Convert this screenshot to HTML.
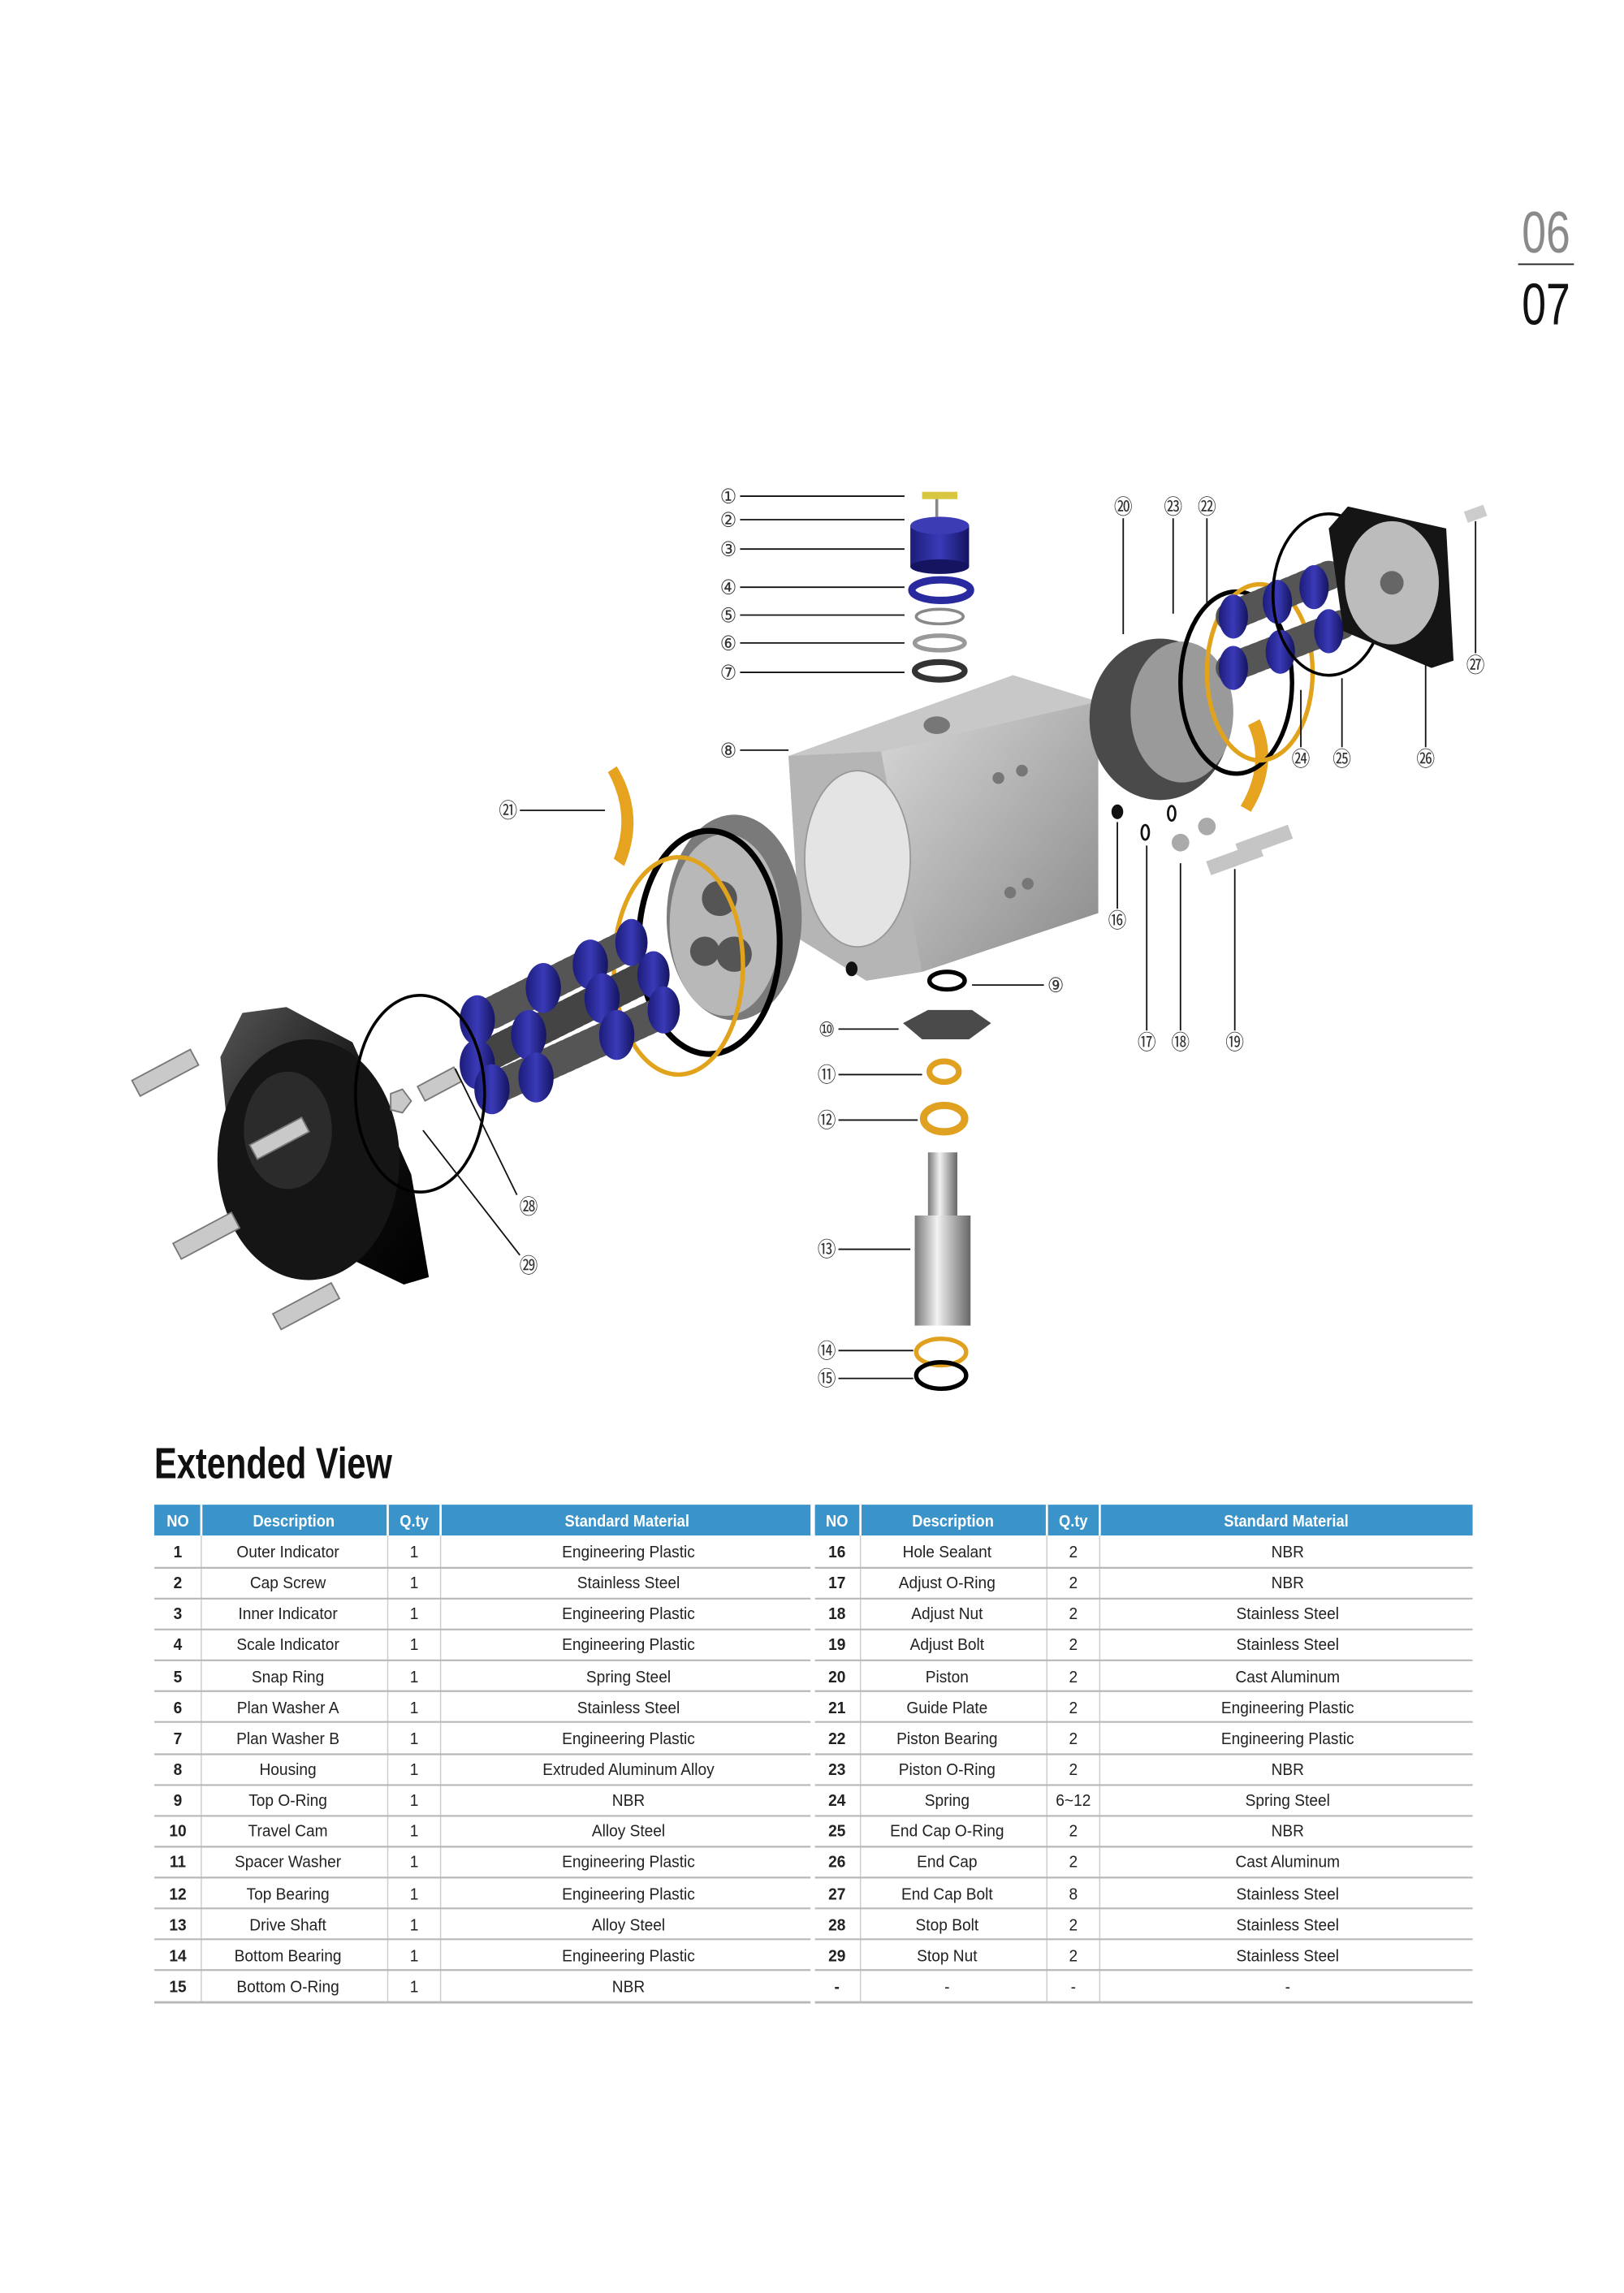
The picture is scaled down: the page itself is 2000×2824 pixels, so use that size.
<!DOCTYPE html>
<html><head><meta charset="utf-8"><style>
html,body{margin:0;padding:0;background:#fff}
svg{display:block}
text{transform-box:fill-box;transform-origin:center}
.t{font-family:"Liberation Sans Narrow","Liberation Sans",sans-serif;font-size:11.5px;fill:#222;text-anchor:middle;transform:scaleX(0.92)}
.b{font-weight:bold}
.h{font-family:"Liberation Sans Narrow","Liberation Sans",sans-serif;font-size:11.5px;fill:#fff;font-weight:bold;text-anchor:middle;transform:scaleX(0.88)}
.c{font-family:"DejaVu Sans","Noto Sans CJK JP",sans-serif;font-size:14px;fill:#333;text-anchor:middle;transform:scaleX(0.9)}
.l{stroke:#111;stroke-width:1;fill:none}
.pn{transform:scaleX(0.74)}
</style></head><body>
<svg width="2000" height="2824" viewBox="0 0 1106 1562" xmlns="http://www.w3.org/2000/svg">
<defs>
<linearGradient id="al" x1="0" y1="0" x2="1" y2="1"><stop offset="0" stop-color="#d8d8d8"/><stop offset="1" stop-color="#8a8a8a"/></linearGradient>
<linearGradient id="bl" x1="0" y1="0" x2="1" y2="0"><stop offset="0" stop-color="#1c1c7a"/><stop offset="0.5" stop-color="#3a3ab8"/><stop offset="1" stop-color="#141460"/></linearGradient>
<linearGradient id="sh" x1="0" y1="0" x2="1" y2="0"><stop offset="0" stop-color="#777"/><stop offset="0.4" stop-color="#f2f2f2"/><stop offset="1" stop-color="#666"/></linearGradient>
<linearGradient id="bk" x1="0" y1="0" x2="1" y2="1"><stop offset="0" stop-color="#555"/><stop offset="0.5" stop-color="#111"/><stop offset="1" stop-color="#000"/></linearGradient>
</defs>
<text class="pn" x="1053" y="172" font-family="Liberation Sans Narrow,Liberation Sans,sans-serif" font-size="40" fill="#8a8a8a" text-anchor="middle">06</text>
<line x1="1034" y1="180" x2="1072" y2="180" stroke="#222" stroke-width="1"/>
<text class="pn" x="1053" y="221" font-family="Liberation Sans Narrow,Liberation Sans,sans-serif" font-size="40" fill="#111" text-anchor="middle">07</text>

<polygon points="537,515 690,460 748,478 748,622 628,662 590,668 545,640" fill="#a9a9a9"/>
<polygon points="537,515 690,460 748,478 600,512" fill="#c8c8c8"/>
<polygon points="600,512 748,478 748,622 628,662" fill="url(#al)"/>
<polygon points="537,515 600,512 628,662 590,668 545,640" fill="#b5b5b5"/>
<ellipse cx="584" cy="585" rx="36" ry="60" fill="#e4e4e4" stroke="#999"/>
<ellipse cx="638" cy="494" rx="9" ry="6" fill="#777"/>
<circle cx="680" cy="530" r="4" fill="#777"/><circle cx="696" cy="525" r="4" fill="#777"/>
<circle cx="688" cy="608" r="4" fill="#777"/><circle cx="700" cy="602" r="4" fill="#777"/>
<ellipse cx="500" cy="625" rx="46" ry="70" fill="#7a7a7a"/>
<ellipse cx="494" cy="630" rx="38" ry="62" fill="#b8b8b8"/>
<circle cx="490" cy="612" r="12" fill="#555"/><circle cx="500" cy="650" r="12" fill="#555"/><circle cx="480" cy="648" r="10" fill="#555"/>
<ellipse cx="483" cy="642" rx="48" ry="76" fill="none" stroke="#000" stroke-width="4"/>
<ellipse cx="462" cy="658" rx="44" ry="74" fill="none" stroke="#e2a31c" stroke-width="3"/>
<g stroke-width="22" stroke-linecap="round">
<line x1="335" y1="690" x2="425" y2="645" stroke="#555" stroke-dasharray="3 3"/>
<line x1="330" y1="720" x2="440" y2="665" stroke="#444" stroke-dasharray="3 3"/>
<line x1="340" y1="740" x2="450" y2="690" stroke="#555" stroke-dasharray="3 3"/>
</g>
<g fill="url(#bl)">
<ellipse cx="325" cy="695" rx="12" ry="17"/><ellipse cx="370" cy="673" rx="12" ry="17"/><ellipse cx="402" cy="657" rx="12" ry="17"/><ellipse cx="430" cy="642" rx="11" ry="16"/>
<ellipse cx="325" cy="725" rx="12" ry="17"/><ellipse cx="360" cy="705" rx="12" ry="17"/><ellipse cx="410" cy="680" rx="12" ry="17"/><ellipse cx="445" cy="664" rx="11" ry="16"/>
<ellipse cx="335" cy="742" rx="12" ry="17"/><ellipse cx="365" cy="734" rx="12" ry="17"/><ellipse cx="420" cy="705" rx="12" ry="17"/><ellipse cx="452" cy="688" rx="11" ry="16"/>
</g>
<polygon points="165,690 195,686 240,710 280,800 292,870 275,875 160,820 150,720" fill="url(#bk)"/>
<ellipse cx="210" cy="790" rx="62" ry="82" fill="#151515"/>
<ellipse cx="196" cy="770" rx="30" ry="40" fill="#3a3a3a" opacity="0.6"/>
<ellipse cx="286" cy="745" rx="44" ry="67" fill="none" stroke="#000" stroke-width="2"/>
<g fill="#c9c9c9" stroke="#777" stroke-width="1">
<rect x="90" y="725" width="45" height="12" transform="rotate(-28 112 731)"/>
<rect x="118" y="836" width="45" height="12" transform="rotate(-28 140 842)"/>
<rect x="186" y="884" width="45" height="12" transform="rotate(-28 208 890)"/>
<rect x="170" y="770" width="40" height="11" transform="rotate(-28 190 775)"/>
<rect x="285" y="733" width="28" height="11" transform="rotate(-28 299 738)"/>
<polygon points="266,745 274,742 280,750 274,758 266,756"/>
</g>
<path d="M420,522 Q440,555 425,590 L418,585 Q430,555 414,526 Z" fill="#e6a320"/>
<path d="M858,490 Q872,520 852,553 L845,549 Q862,520 850,494 Z" fill="#e6a320"/>
<rect x="628" y="335" width="24" height="5" fill="#d8c640"/>
<line x1="638" y1="340" x2="638" y2="352" stroke="#888" stroke-width="2"/>
<rect x="620" y="358" width="40" height="28" fill="url(#bl)"/><ellipse cx="640" cy="358" rx="20" ry="6" fill="#3c3cb5"/>
<ellipse cx="640" cy="386" rx="20" ry="5" fill="#141460"/>
<ellipse cx="641" cy="402" rx="20" ry="7" fill="none" stroke="#2a2aa0" stroke-width="5"/>
<ellipse cx="640" cy="420" rx="16" ry="5" fill="none" stroke="#888" stroke-width="2"/>
<ellipse cx="640" cy="438" rx="17" ry="5" fill="none" stroke="#999" stroke-width="3"/>
<ellipse cx="640" cy="457" rx="17" ry="6" fill="none" stroke="#333" stroke-width="4"/>
<ellipse cx="790" cy="490" rx="48" ry="55" fill="#4a4a4a"/>
<ellipse cx="805" cy="485" rx="35" ry="48" fill="#9a9a9a"/>
<ellipse cx="842" cy="465" rx="38" ry="62" fill="none" stroke="#000" stroke-width="3"/>
<ellipse cx="858" cy="458" rx="36" ry="60" fill="none" stroke="#e2a31c" stroke-width="3"/>
<g stroke-width="20" stroke-linecap="round">
<line x1="838" y1="420" x2="905" y2="392" stroke="#555" stroke-dasharray="3 3"/>
<line x1="838" y1="455" x2="915" y2="425" stroke="#555" stroke-dasharray="3 3"/>
</g>
<g fill="url(#bl)">
<ellipse cx="840" cy="420" rx="10" ry="15"/><ellipse cx="870" cy="410" rx="10" ry="15"/><ellipse cx="895" cy="400" rx="10" ry="15"/>
<ellipse cx="840" cy="455" rx="10" ry="15"/><ellipse cx="872" cy="444" rx="10" ry="15"/><ellipse cx="905" cy="430" rx="10" ry="15"/>
</g>
<ellipse cx="905" cy="405" rx="38" ry="55" fill="none" stroke="#000" stroke-width="2"/>
<polygon points="918,345 985,360 990,450 975,455 915,430 905,360" fill="#151515"/>
<ellipse cx="948" cy="397" rx="32" ry="42" fill="#bcbcbc"/>
<circle cx="948" cy="397" r="8" fill="#666"/>
<rect x="998" y="346" width="14" height="8" fill="#ccc" transform="rotate(-20 1005 350)"/>
<ellipse cx="761" cy="553" rx="4" ry="5" fill="#111"/>
<ellipse cx="780" cy="567" rx="2.5" ry="5" fill="none" stroke="#111" stroke-width="1.5"/>
<ellipse cx="798" cy="554" rx="2.5" ry="5" fill="none" stroke="#111" stroke-width="1.5"/>
<circle cx="804" cy="574" r="6" fill="#aaa"/><circle cx="822" cy="563" r="6" fill="#aaa"/>
<rect x="822" y="580" width="38" height="10" fill="#c5c5c5" transform="rotate(-20 841 585)"/>
<rect x="842" y="568" width="38" height="10" fill="#c5c5c5" transform="rotate(-20 861 573)"/>
<ellipse cx="580" cy="660" rx="4" ry="5" fill="#111"/>
<ellipse cx="645" cy="668" rx="12" ry="6" fill="none" stroke="#000" stroke-width="3"/>
<polygon points="615,697 632,688 662,688 675,697 660,708 628,708" fill="#4a4a4a"/>
<ellipse cx="643" cy="730" rx="10" ry="7" fill="none" stroke="#e0a020" stroke-width="4"/>
<ellipse cx="643" cy="762" rx="14" ry="9" fill="none" stroke="#e0a020" stroke-width="5"/>
<rect x="632" y="785" width="20" height="45" fill="url(#sh)"/>
<rect x="623" y="828" width="38" height="75" fill="url(#sh)"/>
<ellipse cx="641" cy="921" rx="17" ry="9" fill="none" stroke="#e0a020" stroke-width="3"/>
<ellipse cx="641" cy="937" rx="17" ry="9" fill="none" stroke="#000" stroke-width="3"/>

<g class="l">
<line x1="504" y1="338" x2="616" y2="338"/><line x1="504" y1="354" x2="616" y2="354"/>
<line x1="504" y1="374" x2="616" y2="374"/><line x1="504" y1="400" x2="616" y2="400"/>
<line x1="504" y1="419" x2="616" y2="419"/><line x1="504" y1="438" x2="616" y2="438"/>
<line x1="504" y1="458" x2="616" y2="458"/><line x1="504" y1="511" x2="537" y2="511"/>
<line x1="354" y1="552" x2="412" y2="552"/>
<line x1="765" y1="353" x2="765" y2="432"/><line x1="799" y1="353" x2="799" y2="418"/><line x1="822" y1="353" x2="822" y2="412"/>
<line x1="886" y1="509" x2="886" y2="470"/><line x1="914" y1="509" x2="914" y2="462"/><line x1="971" y1="509" x2="971" y2="452"/>
<line x1="1005" y1="445" x2="1005" y2="355"/>
<line x1="761" y1="619" x2="761" y2="560"/><line x1="781" y1="702" x2="781" y2="576"/><line x1="804" y1="702" x2="804" y2="588"/><line x1="841" y1="702" x2="841" y2="592"/>
<line x1="662" y1="671" x2="711" y2="671"/>
<line x1="571" y1="701" x2="612" y2="701"/><line x1="571" y1="732" x2="628" y2="732"/><line x1="571" y1="763" x2="625" y2="763"/>
<line x1="571" y1="851" x2="620" y2="851"/><line x1="571" y1="920" x2="622" y2="920"/><line x1="571" y1="939" x2="622" y2="939"/>
<line x1="310" y1="728" x2="352" y2="814"/><line x1="288" y1="770" x2="354" y2="855"/>
</g>
<g>
<text class="c" x="496" y="343">①</text><text class="c" x="496" y="359">②</text><text class="c" x="496" y="379">③</text><text class="c" x="496" y="405">④</text>
<text class="c" x="496" y="424">⑤</text><text class="c" x="496" y="443">⑥</text><text class="c" x="496" y="463">⑦</text><text class="c" x="496" y="516">⑧</text>
<text class="c" x="346" y="557">㉑</text><text class="c" x="765" y="350">⑳</text><text class="c" x="799" y="350">㉓</text><text class="c" x="822" y="350">㉒</text>
<text class="c" x="886" y="522">㉔</text><text class="c" x="914" y="522">㉕</text><text class="c" x="971" y="522">㉖</text><text class="c" x="1005" y="458">㉗</text>
<text class="c" x="761" y="632">⑯</text><text class="c" x="781" y="715">⑰</text><text class="c" x="804" y="715">⑱</text><text class="c" x="841" y="715">⑲</text>
<text class="c" x="719" y="676">⑨</text><text class="c" x="563" y="706">⑩</text><text class="c" x="563" y="737">⑪</text><text class="c" x="563" y="768">⑫</text>
<text class="c" x="563" y="856">⑬</text><text class="c" x="563" y="925">⑭</text><text class="c" x="563" y="944">⑮</text>
<text class="c" x="360" y="827">㉘</text><text class="c" x="360" y="867">㉙</text>
</g>

<text x="105" y="1007" font-family="Liberation Sans Narrow,Liberation Sans,sans-serif" font-size="30" font-weight="bold" fill="#111" textLength="162" lengthAdjust="spacingAndGlyphs">Extended View</text>

<rect x="105" y="1025" width="447" height="21" fill="#3b94c9"/>
<rect x="555" y="1025" width="448" height="21" fill="#3b94c9"/>
<g stroke="#fff" stroke-width="1.5">
<line x1="137" y1="1025" x2="137" y2="1046"/><line x1="264" y1="1025" x2="264" y2="1046"/><line x1="300" y1="1025" x2="300" y2="1046"/>
<line x1="586" y1="1025" x2="586" y2="1046"/><line x1="713" y1="1025" x2="713" y2="1046"/><line x1="749" y1="1025" x2="749" y2="1046"/>
</g>
<g stroke="#ccc" stroke-width="0.8">
<line x1="137" y1="1046" x2="137" y2="1364"/><line x1="264" y1="1046" x2="264" y2="1364"/><line x1="300" y1="1046" x2="300" y2="1364"/>
<line x1="586" y1="1046" x2="586" y2="1364"/><line x1="713" y1="1046" x2="713" y2="1364"/><line x1="749" y1="1046" x2="749" y2="1364"/>
</g>
<g stroke="#b8b8b8" stroke-width="1.2">
<line x1="105" y1="1068" x2="552" y2="1068"/><line x1="555" y1="1068" x2="1003" y2="1068"/>
<line x1="105" y1="1089" x2="552" y2="1089"/><line x1="555" y1="1089" x2="1003" y2="1089"/>
<line x1="105" y1="1110" x2="552" y2="1110"/><line x1="555" y1="1110" x2="1003" y2="1110"/>
<line x1="105" y1="1131" x2="552" y2="1131"/><line x1="555" y1="1131" x2="1003" y2="1131"/>
<line x1="105" y1="1152" x2="552" y2="1152"/><line x1="555" y1="1152" x2="1003" y2="1152"/>
<line x1="105" y1="1173" x2="552" y2="1173"/><line x1="555" y1="1173" x2="1003" y2="1173"/>
<line x1="105" y1="1195" x2="552" y2="1195"/><line x1="555" y1="1195" x2="1003" y2="1195"/>
<line x1="105" y1="1216" x2="552" y2="1216"/><line x1="555" y1="1216" x2="1003" y2="1216"/>
<line x1="105" y1="1237" x2="552" y2="1237"/><line x1="555" y1="1237" x2="1003" y2="1237"/>
<line x1="105" y1="1258" x2="552" y2="1258"/><line x1="555" y1="1258" x2="1003" y2="1258"/>
<line x1="105" y1="1279" x2="552" y2="1279"/><line x1="555" y1="1279" x2="1003" y2="1279"/>
<line x1="105" y1="1300" x2="552" y2="1300"/><line x1="555" y1="1300" x2="1003" y2="1300"/>
<line x1="105" y1="1321" x2="552" y2="1321"/><line x1="555" y1="1321" x2="1003" y2="1321"/>
<line x1="105" y1="1342" x2="552" y2="1342"/><line x1="555" y1="1342" x2="1003" y2="1342"/>
<line x1="105" y1="1364" x2="552" y2="1364" stroke-width="1.6"/><line x1="555" y1="1364" x2="1003" y2="1364" stroke-width="1.6"/>
</g>
<g>
<text class="h" x="121" y="1040">NO</text><text class="h" x="200" y="1040">Description</text><text class="h" x="282" y="1040">Q.ty</text><text class="h" x="427" y="1040">Standard  Material</text>
<text class="h" x="570" y="1040">NO</text><text class="h" x="649" y="1040">Description</text><text class="h" x="731" y="1040">Q.ty</text><text class="h" x="876" y="1040">Standard  Material</text>
</g>
<g>
<text x="121" y="1061" class="t b">1</text><text class="t" x="196" y="1061">Outer Indicator</text><text class="t" x="282" y="1061">1</text><text class="t" x="428" y="1061">Engineering Plastic</text>
<text x="121" y="1082" class="t b">2</text><text class="t" x="196" y="1082">Cap Screw</text><text class="t" x="282" y="1082">1</text><text class="t" x="428" y="1082">Stainless Steel</text>
<text x="121" y="1103" class="t b">3</text><text class="t" x="196" y="1103">Inner Indicator</text><text class="t" x="282" y="1103">1</text><text class="t" x="428" y="1103">Engineering Plastic</text>
<text x="121" y="1124" class="t b">4</text><text class="t" x="196" y="1124">Scale Indicator</text><text class="t" x="282" y="1124">1</text><text class="t" x="428" y="1124">Engineering Plastic</text>
<text x="121" y="1146" class="t b">5</text><text class="t" x="196" y="1146">Snap Ring</text><text class="t" x="282" y="1146">1</text><text class="t" x="428" y="1146">Spring Steel</text>
<text x="121" y="1167" class="t b">6</text><text class="t" x="196" y="1167">Plan Washer A</text><text class="t" x="282" y="1167">1</text><text class="t" x="428" y="1167">Stainless Steel</text>
<text x="121" y="1188" class="t b">7</text><text class="t" x="196" y="1188">Plan Washer B</text><text class="t" x="282" y="1188">1</text><text class="t" x="428" y="1188">Engineering Plastic</text>
<text x="121" y="1209" class="t b">8</text><text class="t" x="196" y="1209">Housing</text><text class="t" x="282" y="1209">1</text><text class="t" x="428" y="1209">Extruded Aluminum Alloy</text>
<text x="121" y="1230" class="t b">9</text><text class="t" x="196" y="1230">Top O-Ring</text><text class="t" x="282" y="1230">1</text><text class="t" x="428" y="1230">NBR</text>
<text x="121" y="1251" class="t b">10</text><text class="t" x="196" y="1251">Travel Cam</text><text class="t" x="282" y="1251">1</text><text class="t" x="428" y="1251">Alloy Steel</text>
<text x="121" y="1272" class="t b">11</text><text class="t" x="196" y="1272">Spacer Washer</text><text class="t" x="282" y="1272">1</text><text class="t" x="428" y="1272">Engineering Plastic</text>
<text x="121" y="1294" class="t b">12</text><text class="t" x="196" y="1294">Top Bearing</text><text class="t" x="282" y="1294">1</text><text class="t" x="428" y="1294">Engineering Plastic</text>
<text x="121" y="1315" class="t b">13</text><text class="t" x="196" y="1315">Drive Shaft</text><text class="t" x="282" y="1315">1</text><text class="t" x="428" y="1315">Alloy Steel</text>
<text x="121" y="1336" class="t b">14</text><text class="t" x="196" y="1336">Bottom Bearing</text><text class="t" x="282" y="1336">1</text><text class="t" x="428" y="1336">Engineering Plastic</text>
<text x="121" y="1357" class="t b">15</text><text class="t" x="196" y="1357">Bottom O-Ring</text><text class="t" x="282" y="1357">1</text><text class="t" x="428" y="1357">NBR</text>

<text x="570" y="1061" class="t b">16</text><text class="t" x="645" y="1061">Hole Sealant</text><text class="t" x="731" y="1061">2</text><text class="t" x="877" y="1061">NBR</text>
<text x="570" y="1082" class="t b">17</text><text class="t" x="645" y="1082">Adjust O-Ring</text><text class="t" x="731" y="1082">2</text><text class="t" x="877" y="1082">NBR</text>
<text x="570" y="1103" class="t b">18</text><text class="t" x="645" y="1103">Adjust Nut</text><text class="t" x="731" y="1103">2</text><text class="t" x="877" y="1103">Stainless Steel</text>
<text x="570" y="1124" class="t b">19</text><text class="t" x="645" y="1124">Adjust Bolt</text><text class="t" x="731" y="1124">2</text><text class="t" x="877" y="1124">Stainless Steel</text>
<text x="570" y="1146" class="t b">20</text><text class="t" x="645" y="1146">Piston</text><text class="t" x="731" y="1146">2</text><text class="t" x="877" y="1146">Cast Aluminum</text>
<text x="570" y="1167" class="t b">21</text><text class="t" x="645" y="1167">Guide Plate</text><text class="t" x="731" y="1167">2</text><text class="t" x="877" y="1167">Engineering Plastic</text>
<text x="570" y="1188" class="t b">22</text><text class="t" x="645" y="1188">Piston Bearing</text><text class="t" x="731" y="1188">2</text><text class="t" x="877" y="1188">Engineering Plastic</text>
<text x="570" y="1209" class="t b">23</text><text class="t" x="645" y="1209">Piston O-Ring</text><text class="t" x="731" y="1209">2</text><text class="t" x="877" y="1209">NBR</text>
<text x="570" y="1230" class="t b">24</text><text class="t" x="645" y="1230">Spring</text><text class="t" x="731" y="1230">6~12</text><text class="t" x="877" y="1230">Spring Steel</text>
<text x="570" y="1251" class="t b">25</text><text class="t" x="645" y="1251">End Cap O-Ring</text><text class="t" x="731" y="1251">2</text><text class="t" x="877" y="1251">NBR</text>
<text x="570" y="1272" class="t b">26</text><text class="t" x="645" y="1272">End Cap</text><text class="t" x="731" y="1272">2</text><text class="t" x="877" y="1272">Cast Aluminum</text>
<text x="570" y="1294" class="t b">27</text><text class="t" x="645" y="1294">End Cap Bolt</text><text class="t" x="731" y="1294">8</text><text class="t" x="877" y="1294">Stainless Steel</text>
<text x="570" y="1315" class="t b">28</text><text class="t" x="645" y="1315">Stop Bolt</text><text class="t" x="731" y="1315">2</text><text class="t" x="877" y="1315">Stainless Steel</text>
<text x="570" y="1336" class="t b">29</text><text class="t" x="645" y="1336">Stop Nut</text><text class="t" x="731" y="1336">2</text><text class="t" x="877" y="1336">Stainless Steel</text>
<text x="570" y="1357" class="t b">-</text><text class="t" x="645" y="1357">-</text><text class="t" x="731" y="1357">-</text><text class="t" x="877" y="1357">-</text>
</g>
</svg>
</body></html>
